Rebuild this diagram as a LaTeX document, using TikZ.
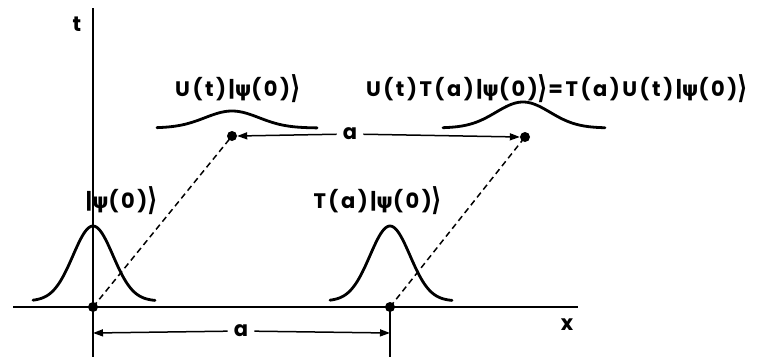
\documentclass[tikz,border=0pt]{standalone}
\usepackage{fontspec}
\usepackage{graphicx}
\setmainfont{Poppins}[LetterSpace=12]
\newfontfamily\dv{DejaVu Sans}[LetterSpace=12]
\usetikzlibrary{arrows.meta}
\newcommand{\kpsi}{{\dv\bfseries ψ}}
\newcommand{\kr}{\raisebox{-0.12em}{\scalebox{1.1}[1.5]{\dv\bfseries ⟩}}}
\tikzset{
  axis/.style={line width=2.4pt},
  wave/.style={line width=2.8pt, line cap=round},
  dashline/.style={line width=1.5pt, dash pattern=on 6pt off 4pt},
  dot/.style={circle, fill=black, inner sep=0pt, minimum size=10pt},
  lbl/.style={font=\fontsize{21}{23}\selectfont\bfseries, inner sep=1pt},
  dim/.style={line width=1.5pt, -{Triangle[length=10pt,width=7pt]}},
}
\begin{document}
\begin{tikzpicture}[x=1pt,y=-1pt]
\useasboundingbox (0,0) rectangle (759,362);
% axes
\coordinate (ttop) at (93,8);
\coordinate (tbot) at (93,357);
\coordinate (xl) at (13,307);
\coordinate (xr) at (578,307);
\draw[axis] (ttop) -- (tbot);
\draw[axis] (xl) -- (xr);
\coordinate (tick2top) at (390,307);
\coordinate (tick2bot) at (390,357);
\draw[axis] (tick2top) -- (tick2bot);
\node[lbl] (tlab) at (77,24) {t};
\node[lbl] (xlab) at (567,325) {x};
% dots
\node[dot] (d0) at (93,307) {};
\node[dot] (d1) at (390,307) {};
\node[dot] (d2) at (232,136) {};
\node[dot] (d3) at (525,137) {};
% dashed lines
\draw[dashline] (d0.center) -- (d2.center);
\draw[dashline] (d1.center) -- (d3.center);
% gaussians
\draw[wave] plot[domain=-60:62, samples=80, smooth] ({93+\x},{301-75*exp(-(\x*\x)/(2*20*20))});
\draw[wave] plot[domain=-60:62, samples=80, smooth] ({390+\x},{301-75*exp(-(\x*\x)/(2*20*20))});
\draw[wave] plot[domain=-75:85, samples=80, smooth] ({232+\x},{128-17*exp(-(\x*\x)/(2*27*27))});
\draw[wave] plot[domain=-80:82, samples=80, smooth] ({523+\x},{128-26*exp(-(\x*\x)/(2*27*27))});
% dimension arrows
\node[lbl, fill=white, inner xsep=6pt] (a1) at (241,331) {a};
\coordinate (b0) at (93,333);
\coordinate (b1) at (390,333);
\draw[dim] (a1) -- (b0);
\draw[dim] (a1) -- (b1);
\node[lbl, fill=white, inner xsep=6pt] (a2) at (350,134) {a};
\draw[dim] (a2) -- (d2.east);
\draw[dim] (a2) -- (d3.west);
% labels
\node[lbl] (l1) at (238,89) {U(t)|\kpsi(0)\kr};
\node[lbl] (l2) at (557,89) {U(t)T(a)|\kpsi(0)\kr=T(a)U(t)|\kpsi(0)\kr};
\node[lbl] (l3) at (122,201) {|\kpsi(0)\kr};
\node[lbl] (l4) at (378,201) {T(a)|\kpsi(0)\kr};
\end{tikzpicture}
\end{document}
